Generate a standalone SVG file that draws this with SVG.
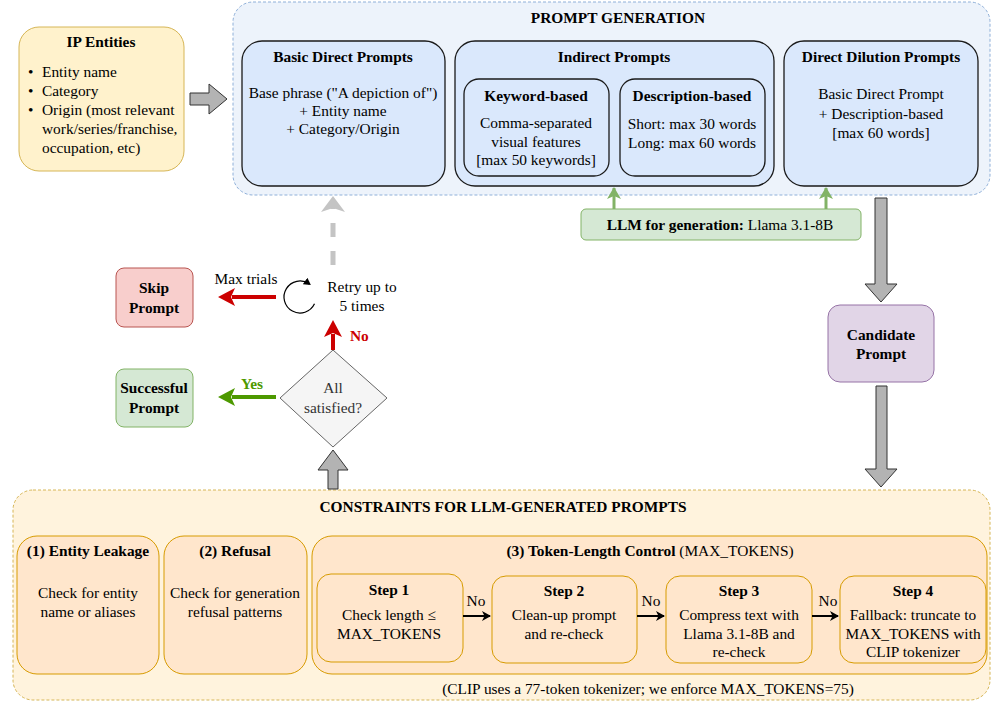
<svg xmlns="http://www.w3.org/2000/svg" width="996" height="705" viewBox="0 0 996 705" font-family="Liberation Serif, serif">
<defs>
<style>
text{font-family:Liberation Serif,serif;font-size:15.4px;fill:#000}
.b{font-weight:bold}
.c{text-anchor:middle}
.blue{fill:#dae8fc;stroke:#1a1a1a;stroke-width:1.3}
.orange{fill:#ffe6cc;stroke:#d79b00;stroke-width:1}
.blk{fill:#b3b3b3;stroke:#333;stroke-width:1}
</style>
<marker id="ab" markerWidth="10" markerHeight="10" refX="8" refY="5" orient="auto" markerUnits="userSpaceOnUse"><path d="M0,0 L9,5 L0,10 L2.5,5 Z" fill="#000"/></marker>
<marker id="ag" markerWidth="14" markerHeight="14" refX="11" refY="7" orient="auto" markerUnits="userSpaceOnUse"><path d="M0,0 L12,7 L0,14 L3,7 Z" fill="#82b366"/></marker>
<marker id="ak" markerWidth="8" markerHeight="8" refX="5" refY="4" orient="auto" markerUnits="userSpaceOnUse"><path d="M0,0 L7,4 L0,8 Z" fill="#000"/></marker>
</defs>

<g id="prompt-generation">
<rect x="233" y="2" width="757" height="193" rx="20" fill="#edf3fb" stroke="#8fb0d9" stroke-width="1" stroke-dasharray="3 2"/>
<text class="b c" x="618" y="23">PROMPT GENERATION</text>
</g>
<g id="constraints">
<rect x="13" y="490" width="977" height="210" rx="20" fill="#fff3dd" stroke="#d6b656" stroke-width="1" stroke-dasharray="3 2"/>
<text class="b c" x="503" y="512">CONSTRAINTS FOR LLM-GENERATED PROMPTS</text>
<text class="c" x="648" y="694">(CLIP uses a 77-token tokenizer; we enforce MAX_TOKENS=75)</text>
</g>

<g id="ip-entities">
<rect x="19" y="27" width="165" height="144" rx="20" fill="#fff2cc" stroke="#d6b656"/>
<text class="b c" x="101" y="47">IP Entities</text>
<text x="28" y="77">•</text><text x="42" y="77">Entity name</text>
<text x="28" y="96">•</text><text x="42" y="96">Category</text>
<text x="28" y="115">•</text><text x="42" y="115">Origin (most relevant</text>
<text x="42" y="134">work/series/franchise,</text>
<text x="42" y="153">occupation, etc)</text>
</g>

<g id="basic-direct">
<rect class="blue" x="242" y="41" width="203" height="145" rx="20"/>
<text class="b c" x="343" y="62">Basic Direct Prompts</text>
<text class="c" x="343" y="98">Base phrase ("A depiction of")</text>
<text class="c" x="343" y="116">+ Entity name</text>
<text class="c" x="343" y="134">+ Category/Origin</text>
</g>

<g id="indirect">
<rect class="blue" x="455" y="41" width="319" height="145" rx="20"/>
<text class="b c" x="614" y="62">Indirect Prompts</text>
</g>
<g id="keyword-based">
<rect class="blue" x="464" y="79" width="145" height="97" rx="15"/>
<text class="b c" x="536" y="101">Keyword-based</text>
<text class="c" x="536" y="128">Comma-separated</text>
<text class="c" x="536" y="147">visual features</text>
<text class="c" x="536" y="165">[max 50 keywords]</text>
</g>
<g id="description-based">
<rect class="blue" x="620" y="79" width="145" height="97" rx="15"/>
<text class="b c" x="692" y="101">Description-based</text>
<text class="c" x="692" y="129">Short: max 30 words</text>
<text class="c" x="692" y="148">Long: max 60 words</text>
</g>
<g id="direct-dilution">
<rect class="blue" x="784" y="41" width="194" height="145" rx="20"/>
<text class="b c" x="881" y="62">Direct Dilution Prompts</text>
<text class="c" x="881" y="99">Basic Direct Prompt</text>
<text class="c" x="881" y="119">+ Description-based</text>
<text class="c" x="881" y="138">[max 60 words]</text>
</g>

<g id="llm">
<rect x="581" y="209" width="280" height="31" rx="5" fill="#d5e8d4" stroke="#82b366"/>
<text class="c" x="720" y="230"><tspan class="b">LLM for generation:</tspan> Llama 3.1-8B</text>
</g>

<g id="candidate">
<rect x="828" y="305" width="106" height="77" rx="12" fill="#e1d5e7" stroke="#9673a6"/>
<text class="b c" x="881" y="340">Candidate</text>
<text class="b c" x="881" y="359">Prompt</text>
</g>

<g id="decision">
<polygon points="333,350 387,398 333,447 280,398" fill="#f5f5f5" stroke="#666"/>
<text class="c" x="333" y="393" style="fill:#333">All</text>
<text class="c" x="333" y="413" style="fill:#333">satisfied?</text>
</g>

<g id="retry">
<text class="c" x="362" y="292">Retry up to</text>
<text class="c" x="362" y="311">5 times</text>
</g>

<g id="skip">
<rect x="116" y="268" width="77" height="59" rx="8" fill="#f8cecc" stroke="#b85450"/>
<text class="b c" x="154" y="293">Skip</text>
<text class="b c" x="154" y="313">Prompt</text>
</g>
<g id="successful">
<rect x="116" y="369" width="77" height="58" rx="8" fill="#d5e8d4" stroke="#82b366"/>
<text class="b c" x="154" y="393">Successful</text>
<text class="b c" x="154" y="413">Prompt</text>
</g>

<g id="entity-leakage">
<rect class="orange" x="17" y="536" width="142" height="138" rx="20"/>
<text class="b c" x="88" y="556">(1) Entity Leakage</text>
<text class="c" x="88" y="598">Check for entity</text>
<text class="c" x="88" y="617">name or aliases</text>
</g>
<g id="refusal">
<rect class="orange" x="164" y="536" width="143" height="138" rx="20"/>
<text class="b c" x="235" y="556">(2) Refusal</text>
<text class="c" x="235" y="598">Check for generation</text>
<text class="c" x="235" y="617">refusal patterns</text>
</g>
<g id="token-length">
<rect class="orange" x="312" y="536" width="675" height="138" rx="20"/>
<text class="c" x="650" y="556"><tspan class="b">(3) Token-Length Control</tspan> (MAX_TOKENS)</text>
</g>
<g id="step1">
<rect class="orange" x="317" y="574" width="146" height="88" rx="14"/>
<text class="b c" x="389" y="595">Step 1</text>
<text class="c" x="389" y="620">Check length ≤</text>
<text class="c" x="389" y="639">MAX_TOKENS</text>
</g>
<g id="step2">
<rect class="orange" x="492" y="576" width="145" height="87" rx="14"/>
<text class="b c" x="564" y="596">Step 2</text>
<text class="c" x="564" y="620">Clean-up prompt</text>
<text class="c" x="564" y="639">and re-check</text>
</g>
<g id="step3">
<rect class="orange" x="666" y="576" width="146" height="87" rx="14"/>
<text class="b c" x="739" y="596">Step 3</text>
<text class="c" x="739" y="620">Compress text with</text>
<text class="c" x="739" y="639">Llama 3.1-8B and</text>
<text class="c" x="739" y="657">re-check</text>
</g>
<g id="step4">
<rect class="orange" x="840" y="576" width="146" height="87" rx="14"/>
<text class="b c" x="913" y="596">Step 4</text>
<text class="c" x="913" y="620">Fallback: truncate to</text>
<text class="c" x="913" y="639">MAX_TOKENS with</text>
<text class="c" x="913" y="657">CLIP tokenizer</text>
</g>

<g id="connectors">
<polygon class="blk" points="190,93 209,93 209,84 227,99 209,114 209,105 190,105"/>
<polygon class="blk" points="875,198 887,198 887,284 897,284 881,302 865,284 875,284"/>
<polygon class="blk" points="876,386 887,386 887,469 897,469 881,487 865,469 876,469"/>
<polygon class="blk" points="328,489 328,470 318,470 333,450 348,470 338,470 338,489"/>
<line x1="333" y1="265" x2="333" y2="208" stroke="#c4c4c4" stroke-width="5" stroke-dasharray="14 14"/>
<polygon points="333,196 345,212 333,208 321,212" fill="#c4c4c4"/>
<line x1="614" y1="209" x2="614" y2="188" stroke="#82b366" stroke-width="3" marker-end="url(#ag)"/>
<line x1="826" y1="209" x2="826" y2="188" stroke="#82b366" stroke-width="3" marker-end="url(#ag)"/>
<line x1="333" y1="350" x2="333" y2="334" stroke="#cc0000" stroke-width="4"/>
<polygon points="333,320 342,337 333,333 324,337" fill="#cc0000"/>
<text class="b" x="350" y="341" style="fill:#cc0000">No</text>
<line x1="276" y1="297" x2="232" y2="297" stroke="#cc0000" stroke-width="4"/>
<polygon points="218,297 235,288 231,297 235,306" fill="#cc0000"/>
<text class="c" x="246" y="284">Max trials</text>
<line x1="276" y1="397" x2="232" y2="397" stroke="#4d9900" stroke-width="4"/>
<polygon points="218,397 235,388 231,397 235,406" fill="#4d9900"/>
<text class="b c" x="252" y="389" style="fill:#4d9900">Yes</text>
<path d="M314.5,303.8 A16,16 0 1 1 309.2,283.9" fill="none" stroke="#000" stroke-width="1.2" marker-end="url(#ak)"/>
<line x1="463" y1="616" x2="490" y2="616" stroke="#000" stroke-width="2" marker-end="url(#ab)"/>
<text class="c" x="476" y="606">No</text>
<line x1="637" y1="616" x2="664" y2="616" stroke="#000" stroke-width="2" marker-end="url(#ab)"/>
<text class="c" x="651" y="606">No</text>
<line x1="812" y1="616" x2="838" y2="616" stroke="#000" stroke-width="2" marker-end="url(#ab)"/>
<text class="c" x="828" y="606">No</text>
</g>
</svg>
